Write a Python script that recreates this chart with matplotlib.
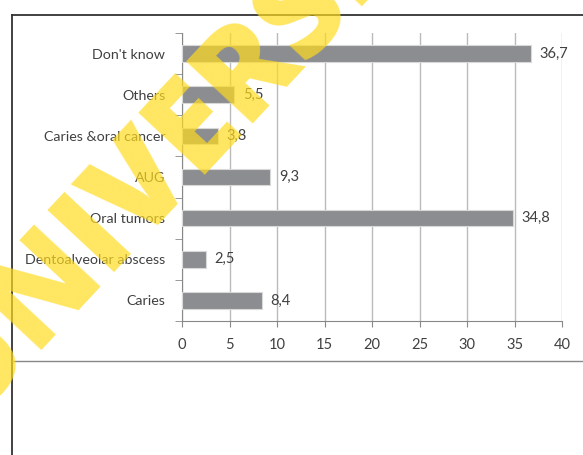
#!/usr/bin/env python3
"""Horizontal bar chart of answers (percent) with a university watermark."""

import matplotlib
matplotlib.use('Agg')
import matplotlib.pyplot as plt
from matplotlib.lines import Line2D

# ── Data (bottom to top) ────────────────────────────────────────────
CATEGORIES = ['Caries', 'Dentoalveolar abscess', 'Oral tumors', 'AUG',
              'Caries &oral cancer', 'Others', "Don't know"]
VALUES = [8.4, 2.5, 34.8, 9.3, 3.8, 5.5, 36.7]
X_TICKS = [0, 5, 10, 15, 20, 25, 30, 35, 40]

plt.rcParams['font.family'] = ['Lato', 'DejaVu Sans']

W, H = 583, 455
fig = plt.figure(figsize=(W / 100, H / 100), dpi=100)

# outer frame lines
fig.add_artist(Line2D([12 / W, 1], [1 - 15 / H, 1 - 15 / H], color='#333333', lw=1.3))
fig.add_artist(Line2D([12 / W, 12 / W], [0, 1 - 15 / H], color='#333333', lw=1.3))
fig.add_artist(Line2D([12 / W, 1], [1 - 361 / H, 1 - 361 / H], color='#888888', lw=1.0))

ax = fig.add_axes([182 / W, 1 - 321 / H, 380 / W, 288 / H])
pos = list(range(len(CATEGORIES)))
ax.barh(pos, VALUES, height=0.4, color='#8c8d90', edgecolor='#d8d8d8', linewidth=0.8, zorder=3)

for y, v in zip(pos, VALUES):
    ax.text(v + 0.9, y, f'{v:.1f}'.replace('.', ','), va='center', ha='left',
            fontsize=10.5, color='#404040')

ax.set_xlim(0, 40)
ax.set_ylim(-0.5, len(CATEGORIES) - 0.5)
ax.set_xticks(X_TICKS)
ax.set_xticklabels([str(t) for t in X_TICKS], fontsize=10.5, color='#404040')
ax.set_yticks(pos)
ax.set_yticklabels(CATEGORIES, fontsize=10.3, color='#404040')
ax.set_yticks([p - 0.5 for p in pos] + [len(CATEGORIES) - 0.5], minor=True)
ax.tick_params(axis='y', which='major', length=0, pad=12)
ax.tick_params(axis='y', which='minor', length=5, color='#888888')
ax.tick_params(axis='x', length=4, color='#888888', pad=8)
ax.grid(axis='x', color='#bbbbbb', lw=1.0, zorder=0)
for s in ['top', 'right']:
    ax.spines[s].set_visible(False)
for s in ['left', 'bottom']:
    ax.spines[s].set_color('#888888')

# watermark
fig.text(206 / W, 1 - 116 / H, 'UNIVERSITY', fontsize=92, fontweight=800,
         family='Open Sans', color='#FFDC1E', alpha=0.7, rotation=47,
         ha='center', va='center', rotation_mode='anchor', zorder=10)

fig.savefig('out.png', dpi=100)
